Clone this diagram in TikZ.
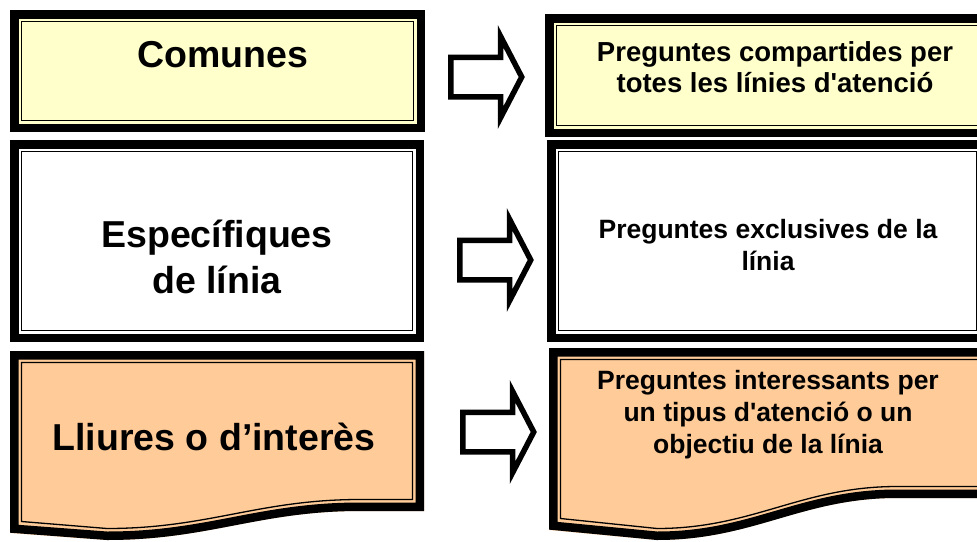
\documentclass[tikz,border=0pt]{standalone}
\usepackage{fontspec}
\newfontfamily\arial{Liberation Sans}
\usetikzlibrary{shapes.arrows}
\definecolor{paleyellow}{HTML}{FFFFCC}
\definecolor{peach}{HTML}{FFCC99}
\newcommand\dframe[5]{%
  \fill[#5] (#1,#2) rectangle (#3,#4);
  \draw[line width=8.5] (#1+4.25,#2+4.25) rectangle (#3-4.25,#4-4.25);
  \draw[line width=1.3] (#1+11.5,#2+11.5) rectangle (#3-11.5,#4-11.5);
}
% L T R yr xhi xlo ylo yl color
\newcommand\wbox[9]{%
  \fill[#9] (#1,#2) -- (#3,#2) -- (#3,#4) -- (#5,#4)
    .. controls ({#5-0.4*(#5-#6)},#4) and ({#6+0.4*(#5-#6)},#7) .. (#6,#7) -- (#1,#8) -- cycle;
  \draw[line width=8.5] (#1+4.25,#2+4.25) -- (#3-4.25,#2+4.25) -- (#3-4.25,#4-4.25) -- (#5,#4-4.25)
    .. controls ({#5-0.4*(#5-#6)},#4-4.25) and ({#6+0.4*(#5-#6)},#7-4.25) .. (#6,#7-4.25) -- (#1+4.25,#8-4.25) -- cycle;
  \draw[line width=1.3] (#1+11.5,#2+11.5) -- (#3-11.5,#2+11.5) -- (#3-11.5,#4-11.5) -- (#5,#4-11.5)
    .. controls ({#5-0.4*(#5-#6)},#4-11.5) and ({#6+0.4*(#5-#6)},#7-11.5) .. (#6,#7-11.5) -- (#1+11.5,#8-11.5) -- cycle;
}
\tikzset{
  lbl/.style={font=\arial\bfseries\fontsize{37.5}{46}\selectfont, align=center, inner sep=0},
  rbl/.style={font=\arial\bfseries\fontsize{26.5}{32}\selectfont, align=center, inner sep=0},
  blockarrow/.style={single arrow, draw, line width=5.5, fill=white,
    minimum height=71, minimum width=76, single arrow head extend=21,
    single arrow tip angle=125, inner xsep=0, inner ysep=17, anchor=tail}
}
\begin{document}
\begin{tikzpicture}[x=1pt,y=-1pt]
\useasboundingbox (0,0) rectangle (977,541);
\fill[white] (0,0) rectangle (977,541);
\clip (0,0) rectangle (977,541);
% left boxes
\dframe{10}{10}{425}{132}{paleyellow}
\dframe{10}{140}{424}{342}{white}
\wbox{10}{351}{424}{511}{360}{107}{540}{533}{peach}
% right boxes
\dframe{545}{14}{1000}{137}{paleyellow}
\dframe{547}{140}{988}{342}{white}
\wbox{549}{348}{995}{498}{897}{657}{540}{530}{peach}
% texts
\node[lbl] (t1) at (223,55) {Comunes};
\node[lbl] (t2) at (217,257) {Específiques\\de línia};
\node[lbl] (t3) at (214,437) {Lliures o d’interès};
\node[rbl, font=\arial\bfseries\fontsize{27.5}{31}\selectfont] (r1) at (775,67) {Preguntes compartides per\\totes les línies d'atenció};
\node[rbl] (r2) at (768,245) {Preguntes exclusives de la\\línia};
\node[rbl] (r3) at (768,415) {Preguntes interessants per\\un tipus d'atenció o un\\objectiu de la línia};
% arrows
\node[blockarrow] (a1) at (448,77) {};
\node[blockarrow] (a2) at (457,260) {};
\node[blockarrow] (a3) at (460,432) {};
\end{tikzpicture}
\end{document}
